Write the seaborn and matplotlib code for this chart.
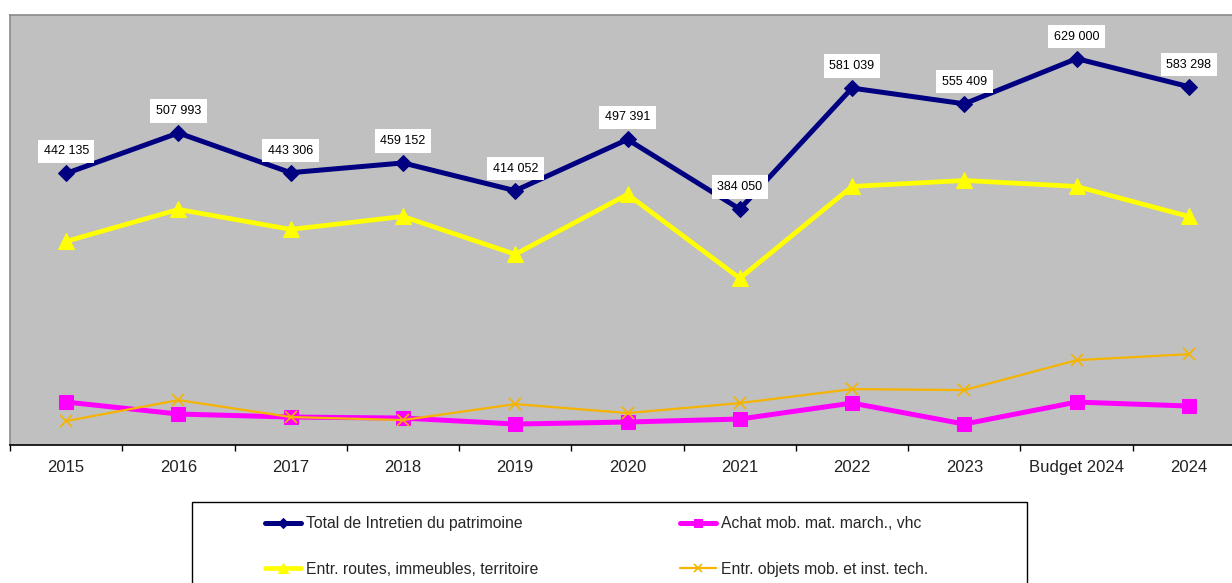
import matplotlib
matplotlib.use('Agg')
import matplotlib.pyplot as plt
import seaborn as sns
from matplotlib.patches import Rectangle

categories = ['2015', '2016', '2017', '2018', '2019', '2020', '2021',
              '2022', '2023', 'Budget 2024', '2024']
total = [442135, 507993, 443306, 459152, 414052, 497391, 384050,
         581039, 555409, 629000, 583298]
routes = [331500, 383500, 351000, 372000, 310400, 408000, 271400,
          420900, 430600, 420900, 372000]
achat = [69900, 50400, 45500, 43900, 34100, 37400, 42250,
         68250, 34100, 69900, 63400]
objets = [39000, 73100, 45500, 40600, 66600, 52000, 68250,
          91000, 89400, 138100, 147900]

lbl_total = 'Total de Intretien du patrimoine'
lbl_achat = 'Achat mob. mat. march., vhc'
lbl_routes = 'Entr. routes, immeubles, territoire'
lbl_objets = 'Entr. objets mob. et inst. tech.'

sns.set_theme(style='white')
plt.rcParams['font.family'] = ['Liberation Sans', 'DejaVu Sans']

W, H = 1232, 583
fig = plt.figure(figsize=(W / 100, H / 100), dpi=100)
ax = fig.add_axes([10 / W, 1 - 445 / H, 1235 / W, 430 / H])
ax.set_facecolor('#C0C0C0')

orange = '#F5B400'
sns.lineplot(x=categories, y=total, ax=ax, sort=False, color='#000080', lw=3.6,
             marker='D', markersize=8.5, markeredgecolor='#000080', label=lbl_total)
sns.lineplot(x=categories, y=achat, ax=ax, sort=False, color='#FF00FF', lw=3.6,
             marker='s', markersize=10, markeredgecolor='#FF00FF', label=lbl_achat)
sns.lineplot(x=categories, y=routes, ax=ax, sort=False, color='#FFFF00', lw=3.4,
             marker='^', markersize=11, markeredgecolor='#FFFF00', label=lbl_routes)
sns.lineplot(x=categories, y=objets, ax=ax, sort=False, color=orange, lw=1.6,
             marker='x', markersize=9, markeredgewidth=1.2, markeredgecolor=orange,
             label=lbl_objets)

handles, labels = ax.get_legend_handles_labels()
if ax.get_legend() is not None:
    ax.get_legend().remove()

# data labels on the total series
for i, v in enumerate(total):
    ax.annotate(f'{v:,}'.replace(',', ' '), (i, v), xytext=(0, 22),
                textcoords='offset pixels', ha='center', va='center',
                fontsize=9, color='black',
                bbox=dict(boxstyle='square,pad=0.45', fc='white', ec='none'))

ax.set_xlim(-0.5, 10.5)
ax.set_ylim(0, 700000)
ax.set_yticks([])
ax.set_xticks(range(len(categories)))
ax.set_xticklabels(categories)
ax.set_xticks([i - 0.5 for i in range(len(categories) + 1)], minor=True)
ax.tick_params(axis='x', which='major', length=0, pad=10.5, labelsize=12, labelcolor='#222222')
ax.tick_params(axis='x', which='minor', length=4, width=1, color='black', direction='out', bottom=True)
ax.set_xlabel('')
ax.set_ylabel('')

ax.spines['bottom'].set_color('black')
ax.spines['bottom'].set_linewidth(1.2)
for s in ['left', 'top', 'right']:
    ax.spines[s].set_color('#8a8a8a')
    ax.spines[s].set_linewidth(1.2)

# legend frame (bottom is cut off by the figure edge)
fig.patches.append(Rectangle((192 / W, -0.05), (1027 - 192) / W, (H - 502) / H + 0.05,
                             transform=fig.transFigure, fc='white', ec='black', lw=1))

by_label = dict(zip(labels, handles))
leg_kw = dict(loc='upper left', frameon=False, borderpad=0, borderaxespad=0,
              handlelength=2.3, handletextpad=0.3, labelspacing=1.95,
              markerscale=0.6, prop={'size': 11.3})
fig.legend([by_label[lbl_total], by_label[lbl_routes]], [lbl_total, lbl_routes],
           bbox_to_anchor=(265 / W, 1 - 516 / H), **leg_kw)
fig.legend([by_label[lbl_achat], by_label[lbl_objets]], [lbl_achat, lbl_objets],
           bbox_to_anchor=(680 / W, 1 - 516 / H), **leg_kw)

fig.savefig('out.png', dpi=100)
